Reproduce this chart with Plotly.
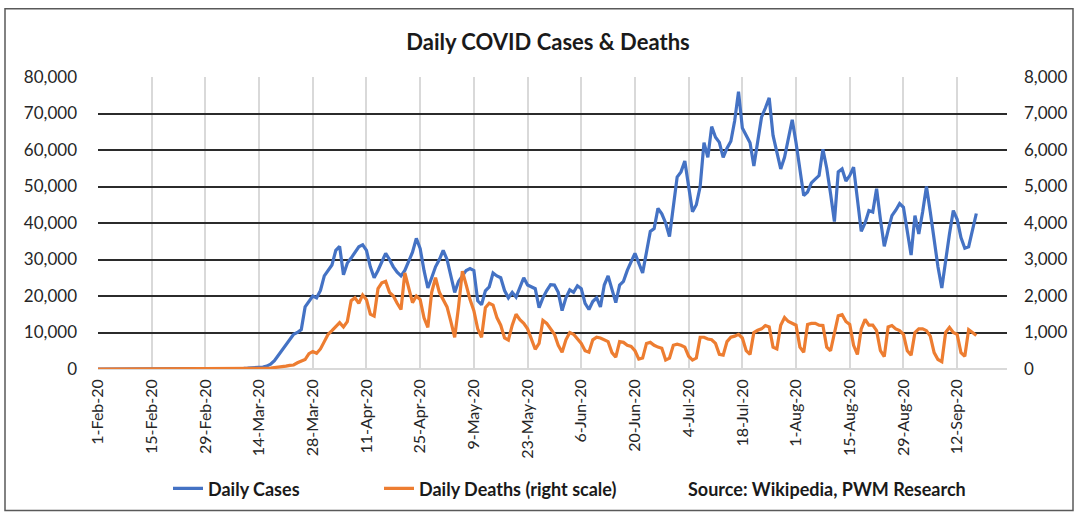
import datetime as dt
import plotly.graph_objects as go

# Daily values, 1-Feb-2020 through 17-Sep-2020
start_date = dt.date(2020, 2, 1)

cases_feb = [1, 0, 3, 0, 0, 0, 0, 0, 1, 0, 1, 1, 0, 0, 1, 0, 0, 0, 0, 0,
             2, 0, 0, 2, 0, 1, 2, 3, 5]
cases_mar = [10, 20, 25, 30, 60, 70, 100, 110, 150, 180, 230, 300, 350, 450, 550,
             800, 1300, 2300, 3800, 5000, 6500, 8000, 9500, 10000, 10800, 17000,
             18700, 20000, 19500, 21500, 25500]
cases_apr = [27000, 28500, 32500, 33600, 25800, 29000, 30400, 32000, 33500, 34000,
             32500, 28000, 25000, 27000, 29500, 31700, 30000, 28000, 26500, 25500,
             27000, 29500, 32000, 35800, 33000, 27000, 22200, 25000, 28000, 30000]
cases_may = [32500, 30000, 25000, 21000, 24000, 25500, 27000, 27500, 27000, 18700,
             17600, 21400, 22500, 26300, 25500, 25000, 21500, 19500, 21000, 19700,
             22500, 25000, 23000, 22500, 22000, 16800, 19500, 21500, 23100, 23000, 21000]
cases_jun = [16000, 19500, 21700, 21000, 22800, 22000, 18000, 16300, 18500, 19500,
             17000, 23000, 25500, 22000, 18200, 23000, 24000, 27000, 29500, 31700,
             29000, 26300, 32000, 37700, 38500, 44000, 42500, 40000, 36300, 44000]
cases_jul = [52600, 54000, 57000, 50000, 43100, 45000, 50000, 62000, 58000, 66400,
             63500, 62100, 58000, 60500, 62400, 68000, 76000, 66000, 64000, 62000,
             55600, 63000, 69000, 71500, 74300, 64000, 59000, 54800, 58000, 63000, 68300]
cases_aug = [62000, 55000, 47500, 48500, 51000, 52000, 53000, 60200, 55000, 48000,
             40400, 54000, 54800, 51500, 53000, 55300, 46000, 37700, 40000, 43400,
             43000, 49400, 41000, 33600, 38000, 42000, 43500, 45300, 44300, 38000, 31200]
cases_sep = [42000, 37000, 43000, 50000, 43000, 35000, 28000, 22200, 30000, 37000,
             43400, 41000, 36000, 33100, 33500, 38000, 42600]

deaths_feb = [0] * 29
deaths_mar = [1, 4, 2, 3, 1, 2, 3, 4, 4, 5, 8, 7, 10, 12, 13, 20, 25, 35, 45, 60,
              80, 100, 110, 170, 220, 260, 420, 480, 430, 550, 750]
deaths_apr = [950, 1050, 1150, 1270, 1150, 1300, 1870, 1950, 1800, 2030,
              1900, 1500, 1450, 2200, 2360, 2400, 2100, 2000, 1800, 1630,
              2630, 2200, 1820, 2000, 1900, 1400, 1140, 2100, 2500, 2100]
deaths_may = [1900, 1700, 1300, 870, 1700, 2680, 2300, 1900, 1600, 1100,
              870, 1680, 1800, 1750, 1410, 1200, 850, 790, 1200, 1500,
              1350, 1250, 1100, 800, 540, 700, 1330, 1250, 1100, 950, 650]
deaths_jun = [460, 800, 1000, 950, 810, 700, 500, 460, 800, 870,
              850, 800, 750, 450, 325, 750, 730, 650, 620, 500,
              270, 300, 700, 730, 650, 600, 570, 245, 300, 650]
deaths_jul = [680, 650, 600, 350, 245, 300, 870, 870, 820, 800,
              700, 400, 380, 750, 870, 900, 950, 850, 500, 400,
              1000, 1060, 1100, 1190, 1150, 600, 550, 1200, 1410, 1300, 1250]
deaths_aug = [1200, 600, 460, 1220, 1250, 1250, 1200, 1190, 600, 500,
              1000, 1460, 1490, 1300, 1220, 650, 400, 1100, 1360, 1200,
              1200, 1050, 500, 340, 1150, 1190, 1100, 1050, 950, 500, 380]
deaths_sep = [1000, 1100, 1100, 1050, 900, 450, 260, 200, 1000, 1140,
              1000, 950, 450, 350, 1080, 1000, 920]

daily_cases = (cases_feb + cases_mar + cases_apr + cases_may + cases_jun
               + cases_jul + cases_aug + cases_sep)
daily_deaths = (deaths_feb + deaths_mar + deaths_apr + deaths_may + deaths_jun
                + deaths_jul + deaths_aug + deaths_sep)
dates = [start_date + dt.timedelta(days=i) for i in range(len(daily_cases))]

# Fortnightly date ticks
tick_dates = [start_date + dt.timedelta(days=14 * k) for k in range(17)]
tick_text = [f"{d.day}-{d.strftime('%b')}-20" for d in tick_dates]
axis_end = start_date + dt.timedelta(days=237)

FONT = "Lato"
TEXT = "#262626"
BLUE = "#4472C4"
ORANGE = "#ED7D31"

fig = go.Figure()
fig.add_trace(go.Scatter(x=dates, y=daily_cases, name="Daily Cases",
                         mode="lines", line=dict(color=BLUE, width=3.2),
                         legend="legend"))
fig.add_trace(go.Scatter(x=dates, y=daily_deaths, name="Daily Deaths (right scale)",
                         mode="lines", line=dict(color=ORANGE, width=3.2),
                         yaxis="y2", legend="legend2"))

# plot area: x 98..1007, y 77..372 (pixels)
L, R, T, B = 98, 1007, 77, 372
W, H = 1078, 519
pw, ph = R - L, B - T


def px_x(p):
    return (p - L) / pw


def px_y(p):
    return (B - p) / ph


legend_style = dict(orientation="h", xanchor="left", y=px_y(493), yanchor="middle",
                    font=dict(size=18, color="#1a1a1a", weight="bold"),
                    bgcolor="rgba(0,0,0,0)", itemwidth=30)

fig.update_layout(
    width=W, height=H,
    margin=dict(l=L, r=W - R, t=T, b=H - B, pad=0),
    paper_bgcolor="white", plot_bgcolor="white",
    font=dict(family=FONT, color=TEXT),
    title=dict(text="<b>Daily COVID Cases & Deaths</b>", x=548 / W, xanchor="center",
               y=1 - 42 / H, yanchor="middle", font=dict(size=22, color="#1a1a1a")),
    xaxis=dict(type="date", range=[start_date, axis_end],
               tickvals=tick_dates, ticktext=tick_text, tickangle=-90,
               tickfont=dict(size=16, color=TEXT), ticklabelstandoff=6,
               showgrid=True, gridcolor="#d9d9d9", gridwidth=1.5,
               showline=False, zeroline=False, ticks=""),
    yaxis=dict(range=[0, 80000], tickvals=list(range(0, 80001, 10000)),
               tickformat=",", tickfont=dict(size=17, color=TEXT),
               showgrid=True, gridcolor="#2b2b2b", gridwidth=1.6,
               zeroline=True, zerolinecolor="#d9d9d9", zerolinewidth=2,
               ticklabelstandoff=20, showline=False),
    yaxis2=dict(range=[0, 8000], tickvals=list(range(0, 8001, 1000)),
                tickformat=",", tickfont=dict(size=17, color=TEXT),
                overlaying="y", side="right", showgrid=False, zeroline=False,
                ticklabelstandoff=16, showline=False),
    legend=dict(x=px_x(168), **legend_style),
    legend2=dict(x=px_x(379), **legend_style),
    showlegend=True,
    annotations=[dict(text="<b>Source: Wikipedia, PWM Research</b>",
                      xref="paper", yref="paper", x=px_x(686), y=px_y(493),
                      xanchor="left", yanchor="middle", showarrow=False,
                      font=dict(size=18, color="#1a1a1a"))],
    shapes=[dict(type="rect", xref="paper", yref="paper",
                 x0=px_x(5), x1=px_x(1073), y0=px_y(515), y1=px_y(8),
                 line=dict(color="#595959", width=1.5), layer="below")],
)

fig.write_html("out.html")
